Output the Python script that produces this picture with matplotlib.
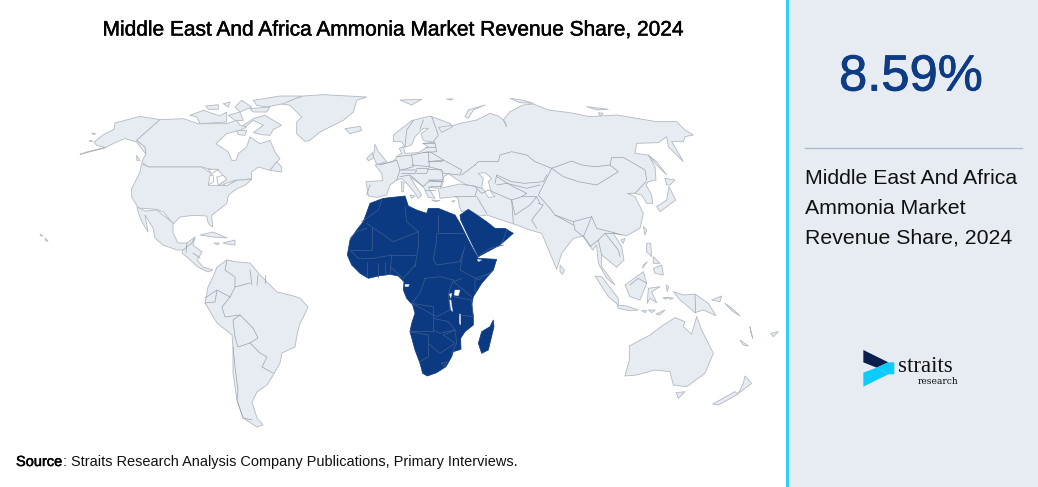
"""Middle East and Africa ammonia market share - map card, outlines traced by hand off the picture."""
import matplotlib
matplotlib.use('Agg')
import matplotlib.pyplot as plt
from matplotlib.patches import Polygon, Rectangle
import matplotlib.patheffects as pe

plt.rcParams['font.family'] = ['Liberation Sans', 'DejaVu Sans']

TITLE = 'Middle East And Africa Ammonia Market Revenue Share, 2024'
SHARE = '8.59%'
SIDE_LINES = ['Middle East And Africa', 'Ammonia Market', 'Revenue Share, 2024']
SOURCE_HEAD = 'Source'
SOURCE_TEXT = ': Straits Research Analysis Company Publications, Primary Interviews.'

alaska = [(0,187),(78,167),(50,160),(42,150),(70,128),(102,112),(105,93),(180,73),(240,83),(170,145),(195,165),(198,187),(185,170),(170,150),(135,140),(105,152),(80,165),(20,180)]
canada = [(240,83),(310,80),(355,95),(440,95),(470,85),(480,100),(500,105),(480,115),(440,125),(408,155),(445,180),(455,205),(468,205),(475,185),(500,165),(510,135),(540,155),(570,145),(585,180),(600,200),(590,210),(570,235),(535,225),(515,240),(515,260),(470,265),(440,280),(415,280),(440,262),(415,235),(385,230),(365,225),(205,225),(185,210),(198,185),(195,165),(170,145)]
usa = [(205,225),(365,225),(395,245),(385,280),(410,280),(440,280),(470,265),(515,262),(495,280),(470,290),(445,310),(440,335),(395,370),(398,405),(385,395),(380,372),(340,370),(300,375),(280,395),(250,360),(230,352),(175,348),(155,315),(155,290),(180,240),(185,215)]
great_lakes = [
    [(385,232),(415,232),(395,245)],
    [(385,278),(390,250),(400,250),(400,270)],
    [(410,255),(430,250),(440,262),(415,280)],
    [(430,277),(470,263),(440,282)],
]
greenland = [(600,35),(670,12),(730,8),(860,15),(830,25),(820,60),(790,85),(720,120),(690,145),(675,148),(650,125),(650,90),(665,75),(630,40)]
north_islands = [
    [(490,100),(520,80),(555,70),(580,85),(605,100),(580,112),(570,130),(545,128),(520,122),(550,100),(520,85),(495,105)],
    [(330,70),(370,55),(420,72),(440,60),(440,90),(360,95),(350,75)],
    [(378,42),(415,38),(415,52),(385,52)],
    [(430,35),(450,30),(445,45)],
    [(465,45),(485,25),(515,45),(480,60)],
    [(445,70),(480,60),(490,85),(465,85)],
    [(520,25),(600,12),(665,12),(610,35),(560,45),(530,40)],
    [(510,50),(570,45),(560,60),(520,60)],
    [(470,115),(500,115),(495,130),(475,128)],
    [(795,110),(840,103),(845,115),(810,125)],
    [(570,235),(590,210),(605,225),(605,240)],
    [(170,190),(180,205),(170,205)],
    [(35,123),(47,125),(42,128)],
    [(28,145),(38,147),(32,149)],
]

# --- middle america and south america, image pixels
mexico = [(137,207),(145,211),(157,210),(163,215),(173,223),(173,233),(178,243),(187,243),(195,237),(192,243),(183,250),(177,250),(163,245),(155,238),(153,228),(145,215),(148,232),(142,222),(138,212)]
central_america = [(183,250),(192,243),(195,237),(193,245),(202,252),(197,260),(203,267),(213,270),(208,272),(198,267),(188,258),(182,253)]
caribbean = [
    [(200,235),(213,232),(227,238),(213,237)],
    [(223,243),(235,240),(235,245),(227,244)],
    [(214,243),(219,243),(218,245)],
    [(40,234),(43,236),(41,236)],
    [(45,238),(48,241),(46,241)],
]
south_america = [(217,267),(227,260),(237,262),(250,263),(260,275),(272,287),(277,292),(290,295),(300,298),(308,307),(303,318),(300,323),(297,335),(295,347),(282,353),(280,363),(272,377),(267,385),(257,392),(252,402),(257,418),(263,425),(257,427),(243,418),(237,400),(233,373),(233,347),(232,335),(217,323),(205,303),(208,287),(213,277)]
america_borders = [
    [(250,283),(235,287),(230,297),(222,307),(225,317),(240,315),(253,328),(258,338),(250,343),(260,353),(267,357),(262,367),(273,373)],
    [(227,260),(225,270),(235,277),(235,287)],
    [(205,298),(217,290),(230,297)],
    [(205,303),(215,302),(217,290)],
    [(240,315),(233,320),(235,337)],
    [(235,337),(238,347),(250,343)],
    [(233,347),(235,367),(238,390),(237,400),(243,418),(252,420)],
    [(250,270),(252,285)], [(258,275),(257,285)], [(265,275),(265,283)],
    [(187,243),(186,252)], [(193,253),(200,258)],
]

eurasia = [(78,275),(128,272),(125,250),(105,225),(135,220),(160,215),(170,200),(185,190),(178,175),(190,170),(195,190),(235,188),(265,170),(248,160),(285,157),(250,152),(243,132),(265,115),(250,115),(225,140),(215,165),(195,172),(185,155),(160,155),(160,135),(215,92),(270,78),(330,100),(338,110),(305,127),(295,112),(345,105),(360,100),(410,90),(450,70),(475,78),(495,95),(500,110),(490,90),(510,65),(550,45),(580,42),(625,60),(690,68),(750,80),(830,75),(890,85),(950,95),(1010,95),(1035,120),(1060,135),(1035,140),(1030,155),(995,155),(1010,180),(1030,215),(985,170),(980,140),(955,158),(890,160),(885,190),(925,195),(945,230),(948,270),(925,275),(918,285),(935,315),(938,340),(920,340),(905,315),(885,310),(862,310),(885,320),(910,370),(900,415),(860,437),(820,430),(845,470),(852,510),(830,532),(810,515),(785,495),(785,530),(825,585),(800,565),(775,520),(770,465),(758,480),(740,450),(730,438),(700,445),(665,490),(650,538),(620,465),(605,430),(570,420),(530,405),(470,385),(440,375),(420,378),(385,360),(365,365),(358,350),(355,325),(345,320),(300,325),(295,295),(265,292),(285,325),(265,322),(250,290),(210,260),(225,285),(245,315),(235,325),(225,310),(205,285),(185,265),(170,270),(150,285),(140,315),(110,322),(85,318)]
black_sea = [(305,275),(312,260),(325,250),(345,265),(380,285),(400,288),(360,282),(300,295)]
caspian = [(415,250),(435,248),(455,265),(445,275),(455,310),(465,320),(445,322),(425,290),(430,265)]
europe_islands = [
    [(105,163),(115,185),(140,215),(110,223),(100,200)],
    [(80,205),(98,188),(100,205),(85,212)],
    [(375,80),(385,60),(435,45),(400,60),(385,85)],
    [(510,25),(545,30),(580,40),(540,38)],
    [(180,30),(245,28),(215,45)],
    [(320,27),(340,27),(330,30)],
    [(185,275),(192,278),(190,305),(185,305)],
    [(210,315),(225,318),(215,325)],
    [(275,330),(300,332),(285,335)],
    [(335,333),(345,332),(340,336)],
    [(925,195),(950,215),(980,255),(950,225)],
    [(975,265),(1005,270),(990,285),(980,285)],
    [(950,350),(980,330),(987,290),(1007,330),(980,350),(960,365)],
    [(740,50),(805,58),(770,60)],
    [(775,68),(790,70),(780,78)],
]
eurasia_borders = [
    # central asia
    [(405,225),(415,215),(475,215),(480,195),(515,185),(560,195),(585,215),(635,235)],
    [(620,255),(610,275),(555,280),(515,275),(470,255),(465,280)],
    [(635,235),(695,213),(725,225),(765,230),(810,225),(815,202),(850,202),(915,240),(920,270)],
    [(635,235),(670,260),(715,275),(770,285),(795,270),(835,245),(810,225)],
    [(635,235),(615,275),(595,315),(630,355),(645,375),(700,395),(755,380),(770,415),(810,425),(845,435)],
    [(918,275),(885,310)],
    [(595,340),(610,345),(575,390),(590,415)],
    [(515,330),(545,320),(590,320),(600,340)],
    [(515,330),(525,375),(570,345),(590,320)],
    [(405,290),(425,310),(445,300),(515,330),(520,400)],
    [(410,320),(440,370)],
    [(345,320),(405,320),(410,300)],
    [(470,260),(520,290),(560,310),(545,320)],
    [(470,285),(500,280),(560,295),(600,285)],
    [(645,375),(700,405)],
    [(700,395),(705,420),(730,440),(755,380)],
    [(730,440),(750,470),(775,450),(795,430),(830,430)],
    [(775,450),(785,495)], [(795,430),(835,480),(840,500)],
    # europe
    [(220,92),(200,120),(195,170)], [(250,90),(240,118)],
    [(275,80),(295,135),(280,155)],
    [(250,160),(285,160),(290,185),(250,188)], [(255,172),(285,172)],
    [(270,185),(310,210),(305,215),(265,215)],
    [(215,195),(265,185),(268,230),(215,225)],
    [(170,200),(215,195),(220,230),(185,240)],
    [(120,225),(170,210),(180,240),(170,270)],
    [(265,215),(310,210),(365,240),(360,255),(310,250),(305,240),(265,230)],
    [(265,238),(305,240),(310,270),(270,270)],
    [(230,235),(265,235),(260,250),(230,250)],
    [(180,240),(230,240),(225,250),(185,250)],
    [(210,255),(250,290),(265,275),(310,275)],
    [(265,270),(310,275),(305,290),(270,290)],
    [(255,300),(285,300)],
    [(180,260),(210,255)],
    [(90,285),(80,315)],
    [(400,288),(425,295)],
    [(365,255),(405,225)],
]
islands_east = [
    [(340,20),(350,30),(345,45)],
    [(272,60),(285,55),(280,70)],
    [(350,70),(362,70),(365,110),(350,95)],
    [(370,145),(395,135),(400,165),(375,160)],
    [(338,145),(352,125),(340,135)],
    [(370,110),(390,130),(370,130)],
    [(90,135),(103,150),(98,163),(90,155)],
    [(195,168),(215,170),(265,235),(265,255),(235,230)],
    [(262,255),(290,258),(325,270),(300,272),(265,265)],
    [(285,195),(340,155),(350,190),(330,240),(300,230)],
    [(355,205),(390,200),(365,215),(380,248),(360,235),(352,250)],
    [(430,215),(460,225),(495,222),(535,250),(558,287),(520,270),(495,278),(475,260),(450,240)],
    [(298,378),(360,345),(400,315),(435,293),(465,305),(460,320),(485,342),(500,290),(515,330),(550,400),(525,460),(470,500),(430,495),(420,455),(375,450),(320,465),(285,468),(298,420)],
    [(438,518),(465,515),(445,535)],
    [(645,468),(665,490),(625,520),(640,490)],
    [(615,515),(625,522),(565,555),(548,552)],
    [(545,240),(575,228),(570,245)],
    [(585,250),(610,268),(630,288),(605,272)],
    [(660,320),(668,355),(662,335)],
    [(630,360),(655,378),(640,375)],
    [(722,340),(745,335),(730,350)],
    [(335,272),(350,272),(345,278)], [(355,270),(375,270),(365,278)], [(378,282),(405,270),(390,285)],
    [(398,233),(415,232),(408,238)], [(415,232),(430,235),(420,238)], [(408,195),(416,200),(412,215)],
]
east_borders = [
    [(300,195),(325,175),(350,190)],
    [(495,225),(497,278)],
]
africa = [(90,40),(130,25),(195,18),(205,48),(230,60),(260,70),(265,55),(295,55),(345,75),(360,100),(390,160),(415,205),(470,208),(460,240),(425,280),(400,320),(395,345),(400,380),(400,405),(375,425),(362,445),(363,478),(340,485),(335,500),(318,530),(290,548),(262,558),(248,550),(240,520),(225,480),(210,425),(215,400),(225,370),(218,345),(200,325),(190,300),(192,275),(175,258),(150,253),(115,258),(85,265),(60,250),(35,225),(22,195),(30,150),(50,120),(70,95)]
arabia = [(360,75),(385,58),(440,95),(465,115),(495,115),(520,130),(480,165),(415,200),(395,160),(362,90)]
madagascar = [(460,390),(462,410),(445,480),(425,490),(415,460),(425,425),(450,410)]
african_lakes = [
    [(345,300),(360,300),(355,318),(342,315)],
    [(328,312),(336,310),(332,325)],
    [(328,330),(333,330),(338,365),(333,360)],
    [(358,372),(362,372),(362,405),(358,400)],
    [(195,283),(208,283),(205,290),(195,290)],
    [(412,208),(425,210),(415,215)],
]
africa_borders = [
    [(125,30),(115,60),(80,85),(65,95)],
    [(30,145),(50,125),(80,115)],
    [(80,100),(160,155)], [(95,110),(95,180),(30,180)],
    [(160,155),(235,125)], [(195,50),(200,95),(235,125)],
    [(295,75),(295,130)], [(295,130),(370,130)],
    [(235,125),(235,170),(225,230)], [(155,195),(225,195)],
    [(290,130),(290,150),(280,210),(290,225),(360,215),(375,170)],
    [(370,185),(360,240),(415,270),(455,245)],
    [(405,305),(405,265),(450,250)],
    [(365,265),(340,275),(395,320)],
    [(255,265),(240,310),(215,340),(290,380),(330,360),(325,310),(340,270),(300,260),(255,265)],
    [(215,340),(280,350),(280,425),(210,425)],
    [(210,425),(265,435),(265,500),(240,515)],
    [(265,460),(300,490),(345,460),(310,435)],
    [(280,385),(325,395),(345,420),(300,430),(280,420)],
    [(310,435),(345,420),(350,460),(335,490)],
    [(340,320),(395,330),(400,380),(360,375)],
    [(30,180),(55,205),(100,205),(155,195)],
    [(80,215),(80,260)], [(115,220),(115,260)], [(135,215),(135,255)],
    [(155,195),(150,253)], [(150,230),(190,265),(225,225)],
    [(305,520),(320,515),(315,530),(305,520)],
    [(415,200),(450,175),(490,165)], [(500,120),(490,150),(480,165)],
]
logo_dark = [(250,60),(325,97),(290,113),(250,97)]
logo_upper = [(325,97),(343,97),(343,133),(325,133),(290,113)]
logo_lower = [(250,128),(290,113),(325,133),(250,170)]

LAND = '#e7ecf3'
LAND_EDGE = '#b3b9c1'
LINE = '#9aa1ab'
DARK = '#0b3a82'
DARK_EDGE = '#3f5e8e'
CYAN = '#33ccff'


def trace(points, x0, y0):
    return [(x0 + x / 3, y0 + y / 3) for x, y in points]


def land(ax, points, fc=LAND, ec=LAND_EDGE, lw=0.6):
    ax.add_patch(Polygon(points, closed=True, fc=fc, ec=ec, lw=lw, joinstyle='round'))


def borders(ax, lines, color, lw=0.5):
    for pts in lines:
        ax.plot([p[0] for p in pts], [p[1] for p in pts], color=color, lw=lw, solid_joinstyle='round')


fig = plt.figure(figsize=(10.38, 4.87), dpi=100)
ax = fig.add_axes([0, 0, 1, 1])
ax.set_xlim(0, 1038)
ax.set_ylim(487, 0)
ax.axis('off')

# side panel
ax.add_patch(Rectangle((789, 0), 249, 487, fc=LAND, ec='none'))
ax.add_patch(Rectangle((786, 0), 3, 487, fc=CYAN, ec='none'))

# grey land
for shape in [alaska, canada, usa, greenland] + north_islands:
    land(ax, trace(shape, 80, 92))
for lake in great_lakes:
    land(ax, trace(lake, 80, 92), fc='white')
for shape in [mexico, central_america, south_america] + caribbean:
    land(ax, shape)
borders(ax, america_borders, LINE)
land(ax, trace(eurasia, 340, 90))
for sea in [black_sea, caspian]:
    land(ax, trace(sea, 340, 90), fc='white')
for shape in europe_islands:
    land(ax, trace(shape, 340, 90))
for shape in islands_east:
    land(ax, trace(shape, 530, 220))
borders(ax, [trace(l, 340, 90) for l in eurasia_borders], LINE)
borders(ax, [trace(l, 530, 220) for l in east_borders], LINE)

# highlighted region
for shape in [africa, arabia, madagascar]:
    land(ax, trace(shape, 340, 190), fc=DARK, ec=DARK, lw=0.5)
for lake in african_lakes:
    land(ax, trace(lake, 340, 190), fc='white', ec='#c8cdd5', lw=0.3)
borders(ax, [trace(l, 340, 190) for l in africa_borders], DARK_EDGE)

# title / source
stroke = [pe.withStroke(linewidth=0.35, foreground='black')]
ax.text(393, 30, TITLE, ha='center', va='center', fontsize=15.05, color='black', path_effects=stroke)
ax.text(16, 462, SOURCE_HEAD, ha='left', va='center', fontsize=10.5, color='black', path_effects=stroke)
ax.text(63, 462, SOURCE_TEXT, ha='left', va='center', fontsize=10.45, color='#111111')

# panel text
ax.text(911, 77, SHARE, ha='center', va='center', fontsize=36.5, color='#0d3b84',
        path_effects=[pe.withStroke(linewidth=0.6, foreground='#0d3b84')])
ax.plot([805, 1022], [148, 148], color='#aab8c8', lw=0.9)
for y, line in zip([178, 208, 238], SIDE_LINES):
    ax.text(805, y, line, ha='left', va='center', fontsize=15.3, color='#111111')

# logo
land(ax, trace(logo_dark, 780, 330), fc='#0a1f4e', ec='none', lw=0)
land(ax, trace(logo_upper, 780, 330), fc='#0ccbff', ec='none', lw=0)
land(ax, trace(logo_lower, 780, 330), fc='#0ccbff', ec='none', lw=0)
ax.text(898, 367, 'straits', ha='left', va='center', fontsize=16.5, family='Liberation Serif', color='#111111')
ax.text(918, 382, 'research', ha='left', va='center', fontsize=6.6, family='DejaVu Serif', color='#111111')

fig.savefig('out.png', dpi=100, facecolor='white')
